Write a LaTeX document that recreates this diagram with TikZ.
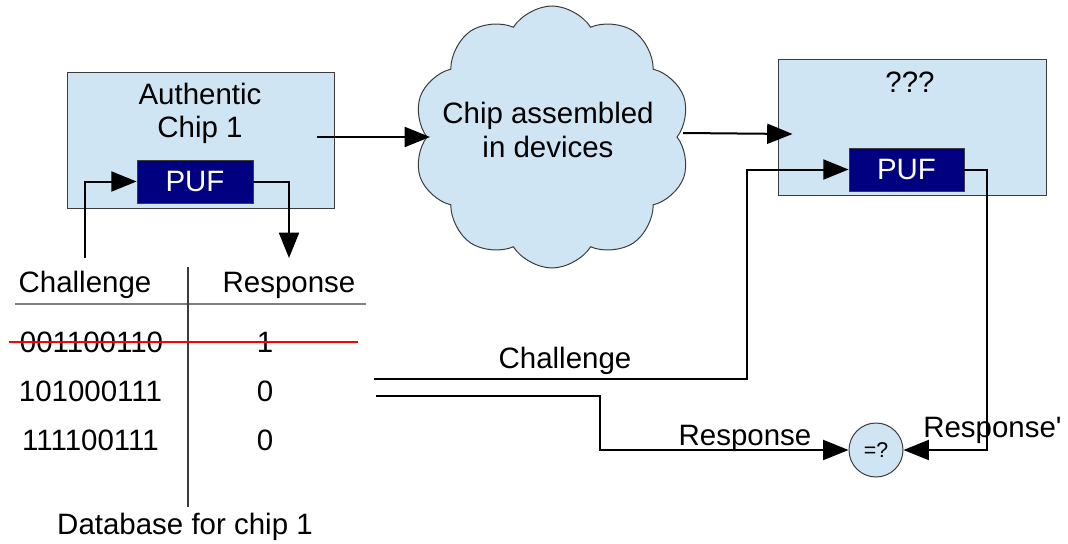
\documentclass[tikz,border=0pt]{standalone}
\usepackage{fontspec}
\setmainfont{Liberation Sans}
\usetikzlibrary{arrows.meta,shapes.symbols}
\definecolor{paleblue}{RGB}{207,229,243}
\definecolor{pufblue}{RGB}{0,0,128}
\definecolor{edgegray}{RGB}{60,60,60}
\definecolor{rulegray}{RGB}{128,128,128}
\begin{document}
\begin{tikzpicture}[x=0.75pt,y=-0.75pt,
  lbl/.style={font=\fontsize{22.1pt}{25pt}\selectfont, inner sep=0pt},
  chipbox/.style={draw=edgegray, line width=0.75pt, fill=paleblue, inner sep=0pt},
  pufbox/.style={draw=edgegray, line width=0.6pt, fill=pufblue, text=white,
    inner sep=0pt, font=\fontsize{22.1pt}{25pt}\selectfont},
  cmpnode/.style={circle, draw=edgegray, line width=0.75pt, fill=paleblue,
    inner sep=0pt, minimum size=40.5pt, font=\fontsize{16pt}{18pt}\selectfont},
  wire/.style={line width=1.5pt, -{Triangle[length=19pt,width=15pt]}}
]
\useasboundingbox (0,0) rectangle (1068,543);

% chip boxes
\node[chipbox, minimum width=200.25pt, minimum height=102pt] (chip1) at (200.5,140) {};
\node[lbl, align=center, anchor=north] (chip1txt) at (200,82.5) {Authentic\\Chip 1};
\node[pufbox, minimum width=87pt, minimum height=32.25pt] (puf1) at (195,181.5) {PUF};

\node[chipbox, minimum width=201pt, minimum height=102pt] (chip2) at (912,127) {};
\node[lbl, anchor=base] (chip2txt) at (910,92) {???};
\node[pufbox, minimum width=86.25pt, minimum height=32.25pt] (puf2) at (906.5,169.5) {PUF};

% the cloud in between
\node[cloud, cloud puffs=10, cloud puff arc=115, aspect=1.05, draw=edgegray,
  line width=0.75pt, fill=paleblue, minimum width=207.75pt, minimum height=196.5pt,
  inner sep=0pt] (cloud) at (552,137) {};
\node[lbl, align=center, anchor=north, font=\fontsize{22.1pt}{25.5pt}\selectfont]
  (cloudtxt) at (548,101.5) {Chip assembled\\in devices};

% comparison
\node[cmpnode] (eq) at (876,450) {=?};

% challenge/response table
\node[lbl, anchor=base] (hchal) at (85,292) {Challenge};
\node[lbl, anchor=base] (hresp) at (289,292) {Response};
\draw[rulegray, line width=1.5pt] (15,304) -- (366,304);
\draw[edgegray, line width=1pt] (188,267) -- (188,507);
\node[lbl, anchor=base] (c1) at (91.5,352) {001100110};
\node[lbl, anchor=base] (r1) at (265,352) {1};
\node[lbl, anchor=base] (c2) at (90.5,401) {101000111};
\node[lbl, anchor=base] (r2) at (265,401) {0};
\node[lbl, anchor=base] (c3) at (90.5,450) {111100111};
\node[lbl, anchor=base] (r3) at (265,450) {0};
\draw[red, line width=1.5pt] (9,342) -- (358,342);
\node[lbl, anchor=base] (dbcap) at (185,534) {Database for chip 1};

% connectors
\coordinate (chin) at (85,258);
\coordinate (rsout) at (289,258);
\draw[wire] (chin) |- (puf1.west);
\draw[wire] (puf1.east) -| (rsout);
\draw[wire] ([shift={(-18,-3)}]chip1.east) -- ([shift={(-122,0)}]cloud.center);
\draw[wire] ([shift={(131,-4)}]cloud.center) -- ([shift={(15,7)}]chip2.west);

\coordinate (chst) at (374,379);
\coordinate (chbend) at (747,379);
\draw[wire] (chst) -- (chbend) |- (puf2.west);

\coordinate (rsst) at (376,396);
\coordinate (rsbend) at (600,396);
\draw[wire] (rsst) -- (rsbend) |- (eq.west);

\draw[wire] (puf2.east) -- ++(22.5,0) |- (eq.east);

% wire labels
\node[lbl, anchor=base] (lchal) at (565,368) {Challenge};
\node[lbl, anchor=base] (lresp) at (745,445) {Response};
\node[lbl, anchor=base west] (lresp2) at (923,437) {Response\textquotesingle};
\end{tikzpicture}
\end{document}
